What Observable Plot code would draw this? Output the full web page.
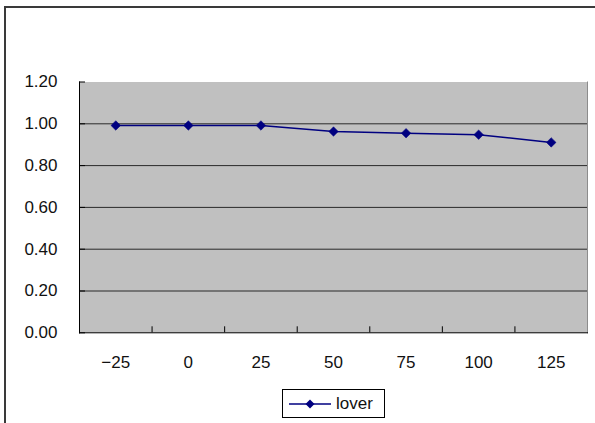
<!DOCTYPE html>
<html>
<head>
<meta charset="utf-8">
<script src="https://cdn.jsdelivr.net/npm/d3@7"></script>
<script src="https://cdn.jsdelivr.net/npm/@observablehq/plot@0.6"></script>
<style>
  html, body { margin: 0; padding: 0; background: #fff; }
  #wrap { position: relative; width: 595px; height: 423px; overflow: hidden; font-family: "Liberation Sans", Arial, sans-serif; }
  #frame { position: absolute; left: 4px; top: 6px; width: 620px; height: 450px; border: 2px solid #3a3a3a; box-sizing: border-box; }
  #chart { position: absolute; left: 0; top: 0; }
  #legend { position: absolute; left: 282px; top: 389px; width: 103px; height: 29px; border: 1px solid #000; box-sizing: border-box; background: #fff; display: flex; align-items: center; font-size: 17px; color: #111; }
  #legend svg { margin-left: 6px; margin-right: 5px; }
</style>
</head>
<body>
<div id="wrap">
  <div id="frame"></div>
  <div id="chart"></div>
  <div id="legend"></div>
</div>
<script>
const categories = [-25, 0, 25, 50, 75, 100, 125];
const lover = [0.992, 0.992, 0.992, 0.963, 0.955, 0.948, 0.911];
const yTicks = [0, 0.2, 0.4, 0.6, 0.8, 1.0, 1.2];
const gridTicks = [0.2, 0.4, 0.6, 0.8, 1.0];
const seriesName = "lover";

const data = categories.map((c, i) => ({x: c, y: lover[i]}));
const step = categories[1] - categories[0];
const bounds = d3.pairs(categories).map(([a, b]) => (a + b) / 2);
const lineColor = "#000080";
const blank = () => "";

const chart = Plot.plot({
  width: 595,
  height: 423,
  marginLeft: 79,
  marginRight: 8,
  marginTop: 81.5,
  marginBottom: 90.7,
  style: {fontFamily: '"Liberation Sans", Arial, sans-serif', fontSize: "17px", color: "#111", background: "transparent"},
  x: {type: "linear", domain: [categories[0] - step / 2, categories[categories.length - 1] + step / 2]},
  y: {domain: [0, 1.2]},
  marks: [
    Plot.frame({fill: "#c0c0c0", stroke: null}),
    Plot.frame({anchor: "right", stroke: "#8c8c8c"}),
    Plot.gridY(gridTicks, {stroke: "#1a1a1a", strokeOpacity: 0.9, strokeWidth: 1}),
    Plot.frame({anchor: "left", stroke: "#000"}),
    Plot.frame({anchor: "bottom", stroke: "#000"}),
    Plot.axisY(yTicks, {tickSize: -6, tickFormat: blank, label: null, stroke: "#000"}),
    Plot.axisY(yTicks, {tickSize: 0, tickPadding: 22, tickFormat: d3.format(".2f"), label: null, fontSize: 17}),
    Plot.axisX(bounds, {tickSize: -6, tickFormat: blank, label: null, stroke: "#000"}),
    Plot.axisX(categories, {tickSize: 0, tickPadding: 23, label: null, fontSize: 17}),
    Plot.line(data, {x: "x", y: "y", stroke: lineColor, strokeWidth: 1.5}),
    Plot.dot(data, {x: "x", y: "y", symbol: "diamond2", r: 4.3, fill: lineColor, stroke: lineColor, strokeWidth: 0.5})
  ]
});
document.getElementById("chart").appendChild(chart);

const legend = document.getElementById("legend");
legend.innerHTML = `<svg width="42" height="12" viewBox="0 0 42 12">
  <line x1="0" y1="6" x2="42" y2="6" stroke="${lineColor}" stroke-width="1.5"/>
  <path d="M21,1.5 L25.5,6 L21,10.5 L16.5,6 Z" fill="${lineColor}"/>
</svg><span>${seriesName}</span>`;
</script>
</body>
</html>
